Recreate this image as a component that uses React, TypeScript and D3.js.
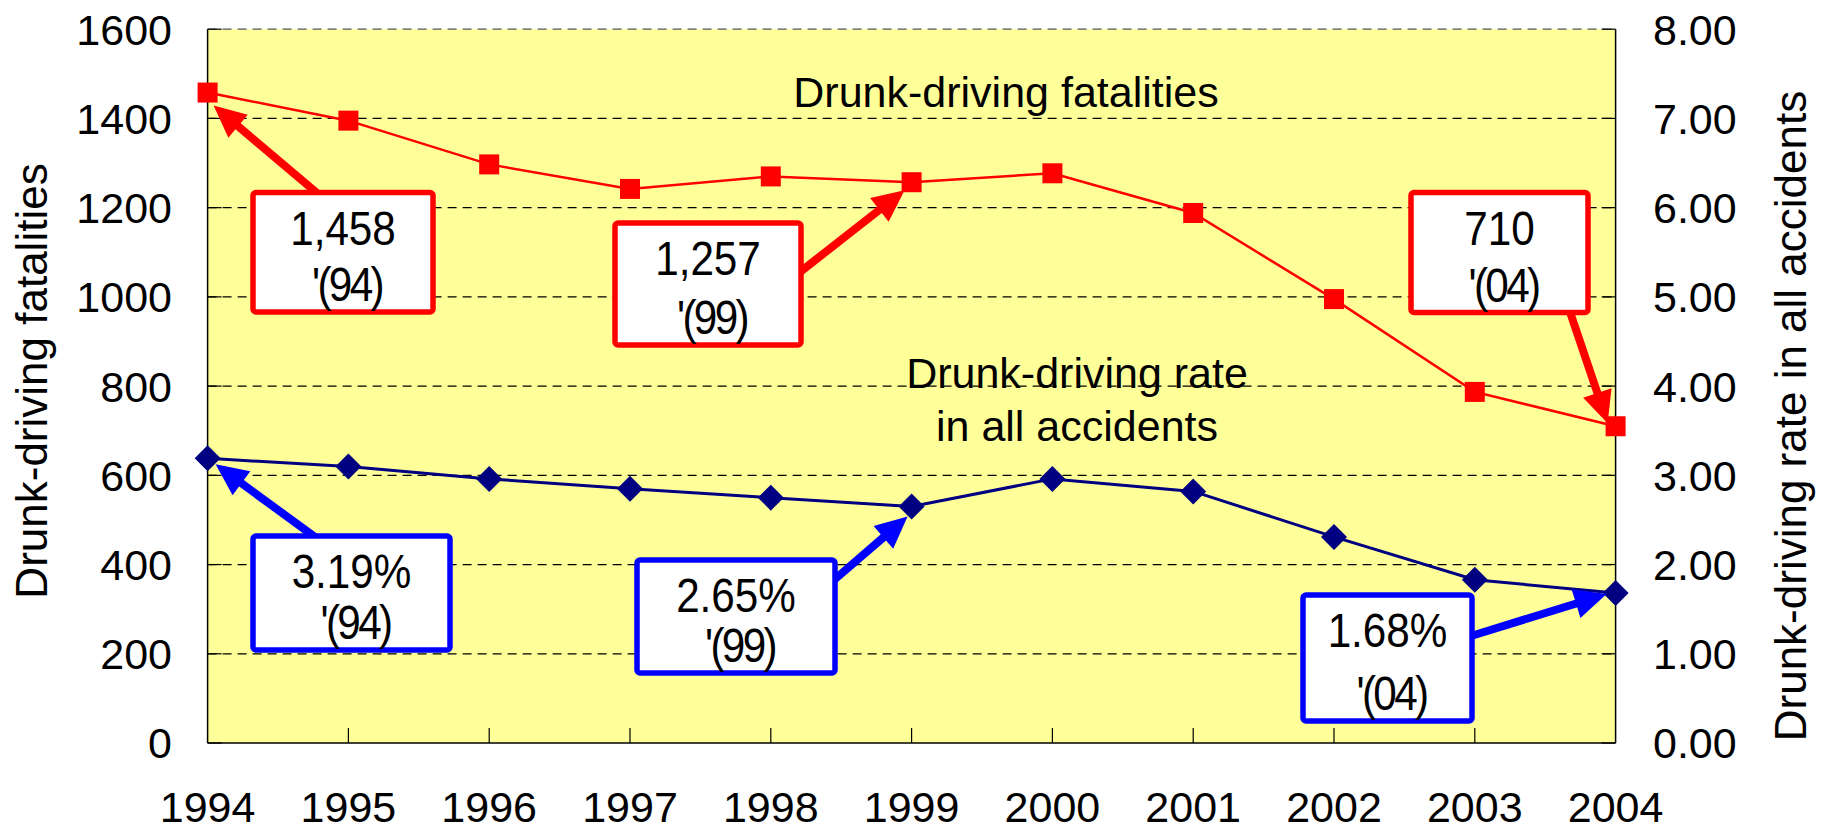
import React from "react";
import * as d3 from "d3";

const years = [1994, 1995, 1996, 1997, 1998, 1999, 2000, 2001, 2002, 2003, 2004];
const fatalities = [1458, 1395, 1297, 1242, 1270, 1257, 1277, 1188, 995, 787, 710];
const rates = [3.19, 3.1, 2.96, 2.85, 2.75, 2.65, 2.96, 2.82, 2.31, 1.83, 1.68];
const leftTicks = [0, 200, 400, 600, 800, 1000, 1200, 1400, 1600];
const rightTicks = [0, 1, 2, 3, 4, 5, 6, 7, 8];

const callouts = [
  { series: "fat", idx: 0, line1: "1,458", line2: "'(94)" },
  { series: "fat", idx: 5, line1: "1,257", line2: "'(99)" },
  { series: "fat", idx: 10, line1: "710", line2: "'(04)" },
  { series: "rate", idx: 0, line1: "3.19%", line2: "'(94)" },
  { series: "rate", idx: 5, line1: "2.65%", line2: "'(99)" },
  { series: "rate", idx: 10, line1: "1.68%", line2: "'(04)" },
];

// layout of callouts (box in pixels, arrow base & tip offset from marker)
const calloutLayout = [
  { x: 253, y: 192.5, w: 180, h: 119.5, base: [317, 193], tipOff: [6, 13] },
  { x: 615, y: 223, w: 186, h: 122, base: [800, 272], tipOff: [-7, 8] },
  { x: 1411, y: 192.5, w: 177, h: 120, base: [1570, 312], tipOff: [-8, -3] },
  { x: 253, y: 536, w: 197, h: 114, base: [315, 537], tipOff: [8, 6] },
  { x: 637, y: 560, w: 198, h: 113, base: [834, 580], tipOff: [-4, 10] },
  { x: 1303, y: 595, w: 169, h: 126, base: [1471, 636], tipOff: [-9, 1] },
];

const FONT = "'Liberation Sans', Arial, Helvetica, sans-serif";

function Arrow({ x1, y1, x2, y2, color }: any) {
  const dx = x2 - x1;
  const dy = y2 - y1;
  const len = Math.sqrt(dx * dx + dy * dy);
  const ux = dx / len;
  const uy = dy / len;
  const headLen = 32;
  const headW = 15;
  const bx = x2 - ux * headLen;
  const by = y2 - uy * headLen;
  const px = -uy;
  const py = ux;
  const pts = [
    [x2, y2],
    [bx + px * headW, by + py * headW],
    [bx - px * headW, by - py * headW],
  ];
  return (
    <g>
      <line x1={x1} y1={y1} x2={bx + ux * 2} y2={by + uy * 2} stroke={color} strokeWidth={8} />
      <polygon points={pts.map((p) => p.join(",")).join(" ")} fill={color} />
    </g>
  );
}

export default function App() {
  const W = 1829;
  const H = 835;
  const left = 207.6;
  const right = 1615.6;
  const top = 29.2;
  const bottom = 743;

  const x = d3.scaleLinear().domain([1994, 2004]).range([left, right]);
  const yL = d3.scaleLinear().domain([0, 1600]).range([bottom, top]);
  const yR = d3.scaleLinear().domain([0, 8]).range([bottom, top]);

  const lineF = d3
    .line<number>()
    .x((_, i) => x(years[i]))
    .y((d) => yL(d));
  const lineR = d3
    .line<number>()
    .x((_, i) => x(years[i]))
    .y((d) => yR(d));

  const fs = 43;

  return (
    <svg
      width={W}
      height={H}
      style={{ position: "absolute", left: 0, top: 0, display: "block", background: "#fff" }}
      fontFamily={FONT}
    >
      <rect x={left} y={top} width={right - left} height={bottom - top} fill="#FFFF99" />
      {/* gridlines */}
      {leftTicks.slice(1).map((t) => (
        <line
          key={"g" + t}
          x1={left}
          x2={right}
          y1={yL(t)}
          y2={yL(t)}
          stroke={t === 1600 ? "#555" : "#000"}
          strokeWidth={1.2}
          strokeDasharray="9,6"
        />
      ))}
      {/* axis frame */}
      <line x1={left} x2={left} y1={top} y2={bottom} stroke="#000" strokeWidth={1.5} />
      <line x1={right} x2={right} y1={top} y2={bottom} stroke="#000" strokeWidth={1.5} />
      <line x1={left} x2={right} y1={bottom} y2={bottom} stroke="#000" strokeWidth={1.5} />
      {leftTicks.map((t) => (
        <line key={"lt" + t} x1={left} x2={left + 14} y1={yL(t)} y2={yL(t)} stroke="#000" strokeWidth={1.2} />
      ))}
      {rightTicks.map((t) => (
        <line key={"rt" + t} x1={right - 14} x2={right} y1={yR(t)} y2={yR(t)} stroke="#000" strokeWidth={1.2} />
      ))}
      {years.slice(1, -1).map((yr) => (
        <line key={"bt" + yr} x1={x(yr)} x2={x(yr)} y1={bottom} y2={bottom - 15} stroke="#000" strokeWidth={1.2} />
      ))}

      {/* tick labels */}
      {leftTicks.map((t) => (
        <text key={"ll" + t} x={172} y={yL(t)} dy="0.36em" textAnchor="end" fontSize={fs} fill="#000">
          {t}
        </text>
      ))}
      {rightTicks.map((t) => (
        <text key={"rl" + t} x={1653} y={yR(t)} dy="0.36em" textAnchor="start" fontSize={fs} fill="#000">
          {t.toFixed(2)}
        </text>
      ))}
      {years.map((yr) => (
        <text key={"xl" + yr} x={x(yr)} y={822} textAnchor="middle" fontSize={fs} fill="#000">
          {yr}
        </text>
      ))}

      {/* axis titles */}
      <text transform={`translate(47,381) rotate(-90)`} textAnchor="middle" fontSize={44} fill="#000">
        Drunk-driving fatalities
      </text>
      <text transform={`translate(1806,416) rotate(-90)`} textAnchor="middle" fontSize={44} fill="#000">
        Drunk-driving rate in all accidents
      </text>

      {/* series lines */}
      <path d={lineF(fatalities) || ""} fill="none" stroke="#FF0000" strokeWidth={2.5} />
      <path d={lineR(rates) || ""} fill="none" stroke="#000080" strokeWidth={3} />
      {fatalities.map((v, i) => (
        <rect key={"fm" + i} x={x(years[i]) - 10} y={yL(v) - 10} width={20} height={20} fill="#FF0000" />
      ))}
      {rates.map((v, i) => {
        const cx = x(years[i]);
        const cy = yR(v);
        const r = 13;
        return (
          <polygon
            key={"rm" + i}
            points={`${cx},${cy - r} ${cx + r},${cy} ${cx},${cy + r} ${cx - r},${cy}`}
            fill="#000080"
          />
        );
      })}

      {/* in-plot labels */}
      <text x={1006} y={107} textAnchor="middle" fontSize={fs} fill="#000">
        Drunk-driving fatalities
      </text>
      <text x={1077} y={388} textAnchor="middle" fontSize={fs} fill="#000">
        Drunk-driving rate
      </text>
      <text x={1077} y={441} textAnchor="middle" fontSize={fs} fill="#000">
        in all accidents
      </text>

      {/* callouts */}
      {callouts.map((c, k) => {
        const L = calloutLayout[k];
        const color = c.series === "fat" ? "#FF0000" : "#0000FF";
        const px = x(years[c.idx]);
        const py = c.series === "fat" ? yL(fatalities[c.idx]) : yR(rates[c.idx]);
        const cx = L.x + L.w / 2;
        return (
          <g key={"co" + k}>
            <Arrow x1={L.base[0]} y1={L.base[1]} x2={px + L.tipOff[0]} y2={py + L.tipOff[1]} color={color} />
            <rect x={L.x} y={L.y} width={L.w} height={L.h} rx={3} fill="#fff" stroke={color} strokeWidth={5.5} />
            <g transform={`translate(${cx},${L.y + 52}) scale(0.88,1)`}>
              <text x={0} y={0} textAnchor="middle" fontSize={48} fill="#000">
                {c.line1}
              </text>
            </g>
            <g transform={`translate(${cx + 4},${L.y + L.h - 11}) scale(0.88,1)`}>
              <text x={0} y={0} textAnchor="middle" fontSize={48} letterSpacing={-3} fill="#000">
                {c.line2}
              </text>
            </g>
          </g>
        );
      })}
    </svg>
  );
}
